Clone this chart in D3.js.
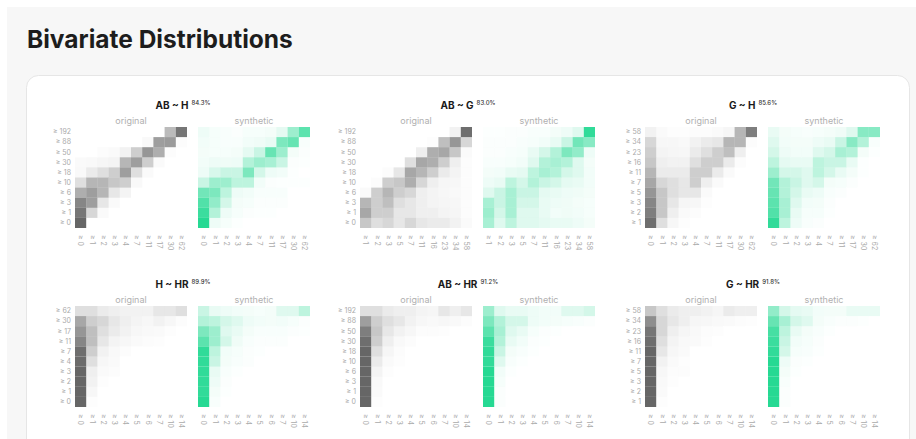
<!DOCTYPE html>
<html>
<head>
<meta charset="utf-8">
<script src="https://cdn.jsdelivr.net/npm/d3@7"></script>
<style>
  html, body { margin: 0; padding: 0; background: #fff; }
  svg { display: block; }
</style>
</head>
<body>
<svg id="chart" width="916" height="439"></svg>
<script>
// Bin labels for each variable
const AB_BINS = ["≥ 0","≥ 1","≥ 3","≥ 6","≥ 10","≥ 18","≥ 30","≥ 50","≥ 88","≥ 192"];
const H_BINS  = ["≥ 0","≥ 1","≥ 2","≥ 3","≥ 4","≥ 7","≥ 11","≥ 17","≥ 30","≥ 62"];
const G_BINS  = ["≥ 1","≥ 2","≥ 3","≥ 5","≥ 7","≥ 11","≥ 16","≥ 23","≥ 34","≥ 58"];
const HR_BINS = ["≥ 0","≥ 1","≥ 2","≥ 3","≥ 4","≥ 5","≥ 6","≥ 7","≥ 10","≥ 14"];

// Pair titles and accuracy
const PAIR_TITLES = ["AB ~ H","AB ~ G","G ~ H","H ~ HR","AB ~ HR","G ~ HR"];
const PAIR_ACCURACY = ["84.3%","83.0%","85.6%","89.9%","91.2%","91.8%"];

// Relative cell densities; rows go from the highest y bin (top) to the lowest (bottom)
const AB_H_ORIGINAL = [
  [0,0,0,0,0,0,0,0,0.42,0.85],
  [0,0,0,0,0,0,0.04,0.6,0.62,0.02],
  [0,0,0.02,0.03,0.08,0.3,0.65,0.5,0.02,0],
  [0.03,0.04,0.06,0.07,0.45,0.6,0.3,0.03,0,0],
  [0.04,0.12,0.2,0.3,0.6,0.2,0.03,0,0,0],
  [0.2,0.45,0.45,0.35,0.3,0.04,0,0,0,0],
  [0.5,0.6,0.45,0.15,0.07,0,0,0,0,0],
  [0.75,0.6,0.15,0.03,0,0,0,0,0,0],
  [0.85,0.25,0.03,0,0,0,0,0,0,0],
  [0.95,0,0,0,0,0,0,0,0,0]
];
const AB_H_SYNTHETIC = [
  [0.08,0.04,0.03,0.02,0.04,0.04,0.05,0.12,0.45,0.75],
  [0.06,0.04,0.03,0.03,0.06,0.07,0.1,0.6,0.7,0.03],
  [0.05,0.04,0.04,0.05,0.12,0.25,0.7,0.45,0.05,0.02],
  [0.06,0.08,0.07,0.08,0.35,0.45,0.4,0.25,0.02,0.01],
  [0.08,0.18,0.25,0.25,0.6,0.2,0.08,0.06,0.01,0],
  [0.25,0.45,0.45,0.3,0.3,0.06,0.02,0.01,0.01,0.01],
  [0.65,0.6,0.3,0.08,0.06,0.03,0.03,0.03,0,0],
  [0.8,0.5,0.2,0.05,0.04,0.02,0.02,0.02,0,0],
  [0.9,0.35,0.08,0.04,0.02,0.01,0.01,0,0,0],
  [1,0.08,0.04,0.01,0,0,0,0,0,0]
];
const AB_G_ORIGINAL = [
  [0,0,0,0,0,0,0,0,0.08,0.9],
  [0,0,0,0,0,0,0.01,0.4,0.65,0.25],
  [0,0,0,0,0,0.1,0.5,0.55,0.35,0.03],
  [0,0,0,0,0.2,0.55,0.5,0.3,0.1,0.02],
  [0,0,0.02,0.15,0.55,0.45,0.3,0.12,0.07,0.02],
  [0,0.02,0.3,0.35,0.5,0.25,0.1,0.06,0.05,0.02],
  [0.03,0.3,0.45,0.3,0.25,0.1,0.07,0.05,0.04,0.02],
  [0.45,0.3,0.4,0.2,0.15,0.1,0.07,0.06,0.05,0.02],
  [0.55,0.3,0.3,0.15,0.15,0.1,0.1,0.07,0.06,0.02],
  [0.35,0.2,0.25,0.15,0.25,0.15,0.12,0.12,0.08,0.03]
];
const AB_G_SYNTHETIC = [
  [0.01,0.01,0.02,0.02,0.03,0.03,0.05,0.08,0.15,0.95],
  [0.02,0.02,0.02,0.03,0.04,0.06,0.1,0.25,0.65,0.55],
  [0.02,0.02,0.03,0.04,0.1,0.2,0.35,0.6,0.5,0.08],
  [0.03,0.03,0.04,0.06,0.15,0.35,0.4,0.35,0.15,0.05],
  [0.05,0.06,0.1,0.12,0.3,0.4,0.35,0.2,0.15,0.06],
  [0.08,0.1,0.3,0.2,0.35,0.25,0.2,0.12,0.1,0.06],
  [0.15,0.25,0.4,0.25,0.25,0.12,0.1,0.08,0.07,0.05],
  [0.4,0.25,0.4,0.2,0.2,0.1,0.08,0.07,0.05,0.04],
  [0.45,0.2,0.4,0.15,0.15,0.1,0.06,0.07,0.06,0.04],
  [0.4,0.15,0.3,0.15,0.15,0.12,0.1,0.1,0.08,0.05]
];
const G_H_ORIGINAL = [
  [0.08,0.03,0.01,0.01,0.02,0.02,0.03,0.06,0.45,0.8],
  [0.25,0.05,0.05,0.04,0.08,0.12,0.15,0.45,0.45,0.02],
  [0.3,0.07,0.06,0.05,0.12,0.2,0.3,0.4,0.1,0],
  [0.35,0.1,0.08,0.08,0.2,0.3,0.3,0.12,0.02,0],
  [0.45,0.12,0.12,0.12,0.3,0.3,0.12,0.03,0,0],
  [0.55,0.25,0.2,0.15,0.3,0.1,0.03,0,0,0],
  [0.65,0.35,0.2,0.15,0.15,0.03,0,0,0,0],
  [0.75,0.35,0.15,0.06,0.05,0.01,0,0,0,0],
  [0.8,0.35,0.1,0.03,0.02,0,0,0,0,0],
  [0.9,0.2,0.05,0.01,0,0,0,0,0,0]
];
const G_H_SYNTHETIC = [
  [0.1,0.05,0.04,0.03,0.04,0.05,0.07,0.15,0.55,0.55],
  [0.15,0.06,0.05,0.05,0.08,0.1,0.25,0.55,0.35,0.03],
  [0.2,0.08,0.06,0.06,0.15,0.2,0.4,0.35,0.05,0.01],
  [0.3,0.12,0.1,0.1,0.3,0.25,0.25,0.1,0.01,0],
  [0.45,0.2,0.2,0.15,0.3,0.2,0.1,0.05,0.01,0],
  [0.65,0.35,0.25,0.15,0.2,0.05,0.04,0.02,0,0],
  [0.7,0.35,0.2,0.1,0.08,0.03,0.02,0,0,0],
  [0.75,0.4,0.15,0.06,0.05,0.02,0,0,0,0],
  [0.8,0.4,0.1,0.04,0.04,0.01,0,0,0,0],
  [0.95,0.3,0.08,0.03,0.02,0,0,0,0,0]
];
const H_HR_ORIGINAL = [
  [0.2,0.2,0.12,0.1,0.08,0.08,0.08,0.15,0.15,0.2],
  [0.55,0.3,0.25,0.15,0.1,0.07,0.05,0.08,0.05,0.02],
  [0.65,0.4,0.2,0.12,0.08,0.05,0.04,0.03,0.01,0],
  [0.75,0.4,0.15,0.07,0.05,0.03,0.02,0.01,0,0],
  [0.9,0.3,0.08,0.04,0.02,0,0,0,0,0],
  [0.92,0.2,0.05,0.03,0,0,0,0,0,0],
  [0.95,0.1,0.03,0.02,0,0,0,0,0,0],
  [0.95,0.08,0.01,0,0,0,0,0,0,0],
  [0.95,0.05,0,0,0,0,0,0,0,0],
  [0.95,0.01,0,0,0,0,0,0,0,0]
];
const H_HR_SYNTHETIC = [
  [0.25,0.1,0.08,0.06,0.05,0.04,0.05,0.15,0.15,0.3],
  [0.35,0.3,0.2,0.15,0.08,0.06,0.05,0.06,0.04,0.02],
  [0.6,0.45,0.15,0.1,0.05,0.03,0.03,0.03,0.02,0.01],
  [0.75,0.45,0.2,0.07,0.03,0.02,0.02,0.02,0,0],
  [0.95,0.3,0.06,0.04,0.02,0.01,0,0,0,0],
  [0.95,0.25,0.05,0.03,0.02,0,0,0,0,0],
  [0.95,0.1,0.03,0.01,0,0,0,0,0,0],
  [0.95,0.08,0.02,0,0,0,0,0,0,0],
  [0.95,0.05,0.01,0,0,0,0,0,0,0],
  [1,0.03,0,0,0,0,0,0,0,0]
];
const AB_HR_ORIGINAL = [
  [0.2,0.2,0.12,0.1,0.1,0.07,0.06,0.15,0.1,0.15],
  [0.6,0.3,0.2,0.15,0.08,0.05,0.04,0.05,0.04,0.02],
  [0.8,0.35,0.15,0.08,0.05,0.02,0.02,0.01,0,0],
  [0.9,0.3,0.1,0.04,0.02,0,0,0,0,0],
  [0.95,0.2,0.06,0.02,0,0,0,0,0,0],
  [0.95,0.12,0.03,0.01,0,0,0,0,0,0],
  [0.95,0.07,0.01,0,0,0,0,0,0,0],
  [0.95,0.04,0,0,0,0,0,0,0,0],
  [0.95,0.03,0,0,0,0,0,0,0,0],
  [0.95,0.01,0,0,0,0,0,0,0,0]
];
const AB_HR_SYNTHETIC = [
  [0.45,0.15,0.1,0.1,0.08,0.06,0.06,0.15,0.15,0.2],
  [0.6,0.35,0.2,0.2,0.08,0.06,0.05,0.04,0.03,0.02],
  [0.75,0.4,0.15,0.1,0.04,0.02,0.01,0,0,0],
  [0.9,0.35,0.1,0.06,0.02,0.01,0,0,0,0],
  [0.95,0.25,0.05,0.03,0.01,0,0,0,0,0],
  [0.95,0.15,0.03,0.01,0,0,0,0,0,0],
  [1,0.06,0.01,0,0,0,0,0,0,0],
  [1,0.04,0,0,0,0,0,0,0,0],
  [1,0.02,0,0,0,0,0,0,0,0],
  [1,0.02,0,0,0,0,0,0,0,0]
];
const G_HR_ORIGINAL = [
  [0.35,0.2,0.12,0.1,0.1,0.08,0.06,0.12,0.1,0.1],
  [0.7,0.25,0.15,0.1,0.06,0.05,0.04,0.03,0.02,0.01],
  [0.85,0.25,0.1,0.06,0.04,0.02,0.01,0,0,0],
  [0.9,0.2,0.07,0.04,0.03,0.01,0,0,0,0],
  [0.95,0.15,0.05,0.03,0,0,0,0,0,0],
  [0.95,0.08,0.03,0.01,0,0,0,0,0,0],
  [0.95,0.05,0.02,0.02,0,0,0,0,0,0],
  [0.95,0.04,0.01,0,0,0,0,0,0,0],
  [0.95,0.03,0,0,0,0,0,0,0,0],
  [0.95,0.01,0,0,0,0,0,0,0,0]
];
const G_HR_SYNTHETIC = [
  [0.5,0.2,0.12,0.1,0.06,0.05,0.05,0.1,0.1,0.1],
  [0.7,0.4,0.2,0.15,0.05,0.03,0.02,0.02,0.01,0],
  [0.85,0.3,0.1,0.05,0.03,0.01,0,0,0,0],
  [0.9,0.25,0.06,0.04,0.02,0,0,0,0,0],
  [0.95,0.2,0.04,0.03,0.01,0,0,0,0,0],
  [1,0.08,0.02,0.01,0,0,0,0,0,0],
  [1,0.05,0.01,0,0,0,0,0,0,0],
  [1,0.03,0,0,0,0,0,0,0,0],
  [1,0.02,0,0,0,0,0,0,0,0],
  [1,0.02,0,0,0,0,0,0,0,0]
];

const panels = [
  { xBins: H_BINS,  yBins: AB_BINS, original: AB_H_ORIGINAL,  synthetic: AB_H_SYNTHETIC },
  { xBins: G_BINS,  yBins: AB_BINS, original: AB_G_ORIGINAL,  synthetic: AB_G_SYNTHETIC },
  { xBins: H_BINS,  yBins: G_BINS,  original: G_H_ORIGINAL,   synthetic: G_H_SYNTHETIC },
  { xBins: HR_BINS, yBins: H_BINS,  original: H_HR_ORIGINAL,  synthetic: H_HR_SYNTHETIC },
  { xBins: HR_BINS, yBins: AB_BINS, original: AB_HR_ORIGINAL, synthetic: AB_HR_SYNTHETIC },
  { xBins: HR_BINS, yBins: G_BINS,  original: G_HR_ORIGINAL,  synthetic: G_HR_SYNTHETIC }
].map((p, i) => ({ ...p, title: PAIR_TITLES[i], accuracy: PAIR_ACCURACY[i] }));

const FONT = "Inter, 'Open Sans', sans-serif";
const svg = d3.select("#chart");

// page backdrop, heading and card
svg.append("rect").attr("x", 7).attr("y", 7).attr("width", 909).attr("height", 432).attr("fill", "#f7f7f7");
svg.append("text")
  .attr("x", 27).attr("y", 48)
  .attr("font-family", FONT).attr("font-size", 24.5).attr("font-weight", 700)
  .attr("fill", "#1d1d1d")
  .text("Bivariate Distributions");
svg.append("rect")
  .attr("x", 26.5).attr("y", 75.5).attr("width", 883).attr("height", 400)
  .attr("rx", 12).attr("ry", 12)
  .attr("fill", "#fff").attr("stroke", "#e6e6e6");

const HM_W = 112, HM_H = 101, HM_GAP = 11;
const colX = [75, 360, 645];
const rowY = [127, 306];

const opacity = d3.scaleLinear().domain([0, 1]).range([0, 1]).clamp(true);
const kinds = [
  { key: "original",  label: "original",  color: "#5e5e5e" },
  { key: "synthetic", label: "synthetic", color: "#26d993" }
];

panels.forEach((p, i) => {
  const x0 = colX[i % 3], y0 = rowY[Math.floor(i / 3)];
  const g = svg.append("g").attr("transform", `translate(${x0},${y0})`);

  const title = g.append("text")
    .attr("x", 108).attr("y", -18)
    .attr("text-anchor", "middle")
    .attr("font-family", FONT).attr("font-weight", 700).attr("font-size", 10)
    .attr("fill", "#1a1a1a");
  title.append("tspan").text(p.title);
  title.append("tspan").attr("dx", 3).attr("dy", -4)
    .attr("font-size", 6).attr("font-weight", 500).attr("fill", "#333")
    .text(p.accuracy);

  const yScale = d3.scaleBand().domain(p.yBins.slice().reverse()).range([0, HM_H]);

  kinds.forEach((k, j) => {
    const hx = j * (HM_W + HM_GAP);
    const xScale = d3.scaleBand().domain(p.xBins).range([0, HM_W]);
    const hg = g.append("g").attr("transform", `translate(${hx},0)`);

    hg.append("text")
      .attr("x", HM_W / 2).attr("y", -3)
      .attr("text-anchor", "middle")
      .attr("font-family", FONT).attr("font-size", 9)
      .attr("fill", "#b0b0b0")
      .text(k.label);

    const cells = [];
    p[k.key].forEach((row, r) => row.forEach((v, c) => {
      cells.push({ xb: p.xBins[c], yb: p.yBins[p.yBins.length - 1 - r], v });
    }));

    hg.selectAll("rect.cell").data(cells).join("rect")
      .attr("class", "cell")
      .attr("x", d => xScale(d.xb))
      .attr("y", d => yScale(d.yb))
      .attr("width", xScale.bandwidth())
      .attr("height", yScale.bandwidth())
      .attr("fill", k.color)
      .attr("fill-opacity", d => opacity(d.v));

    // x axis: rotated bin labels
    const xAxis = d3.axisBottom(xScale).tickSize(0).tickPadding(0);
    const ax = hg.append("g").attr("transform", `translate(0,${HM_H + 7})`).call(xAxis);
    ax.select(".domain").remove();
    ax.selectAll("text")
      .attr("font-family", FONT).attr("font-size", 7).attr("fill", "#aaaaaa")
      .attr("text-anchor", "start")
      .attr("dy", "0.32em").attr("y", 0).attr("x", 0)
      .attr("transform", "rotate(90)");

    if (j === 0) {
      const yAxis = d3.axisLeft(yScale).tickSize(0).tickPadding(4);
      const ay = hg.append("g").call(yAxis);
      ay.select(".domain").remove();
      ay.selectAll("text")
        .attr("font-family", FONT).attr("font-size", 7).attr("fill", "#aaaaaa");
    }
  });
});
</script>
</body>
</html>
